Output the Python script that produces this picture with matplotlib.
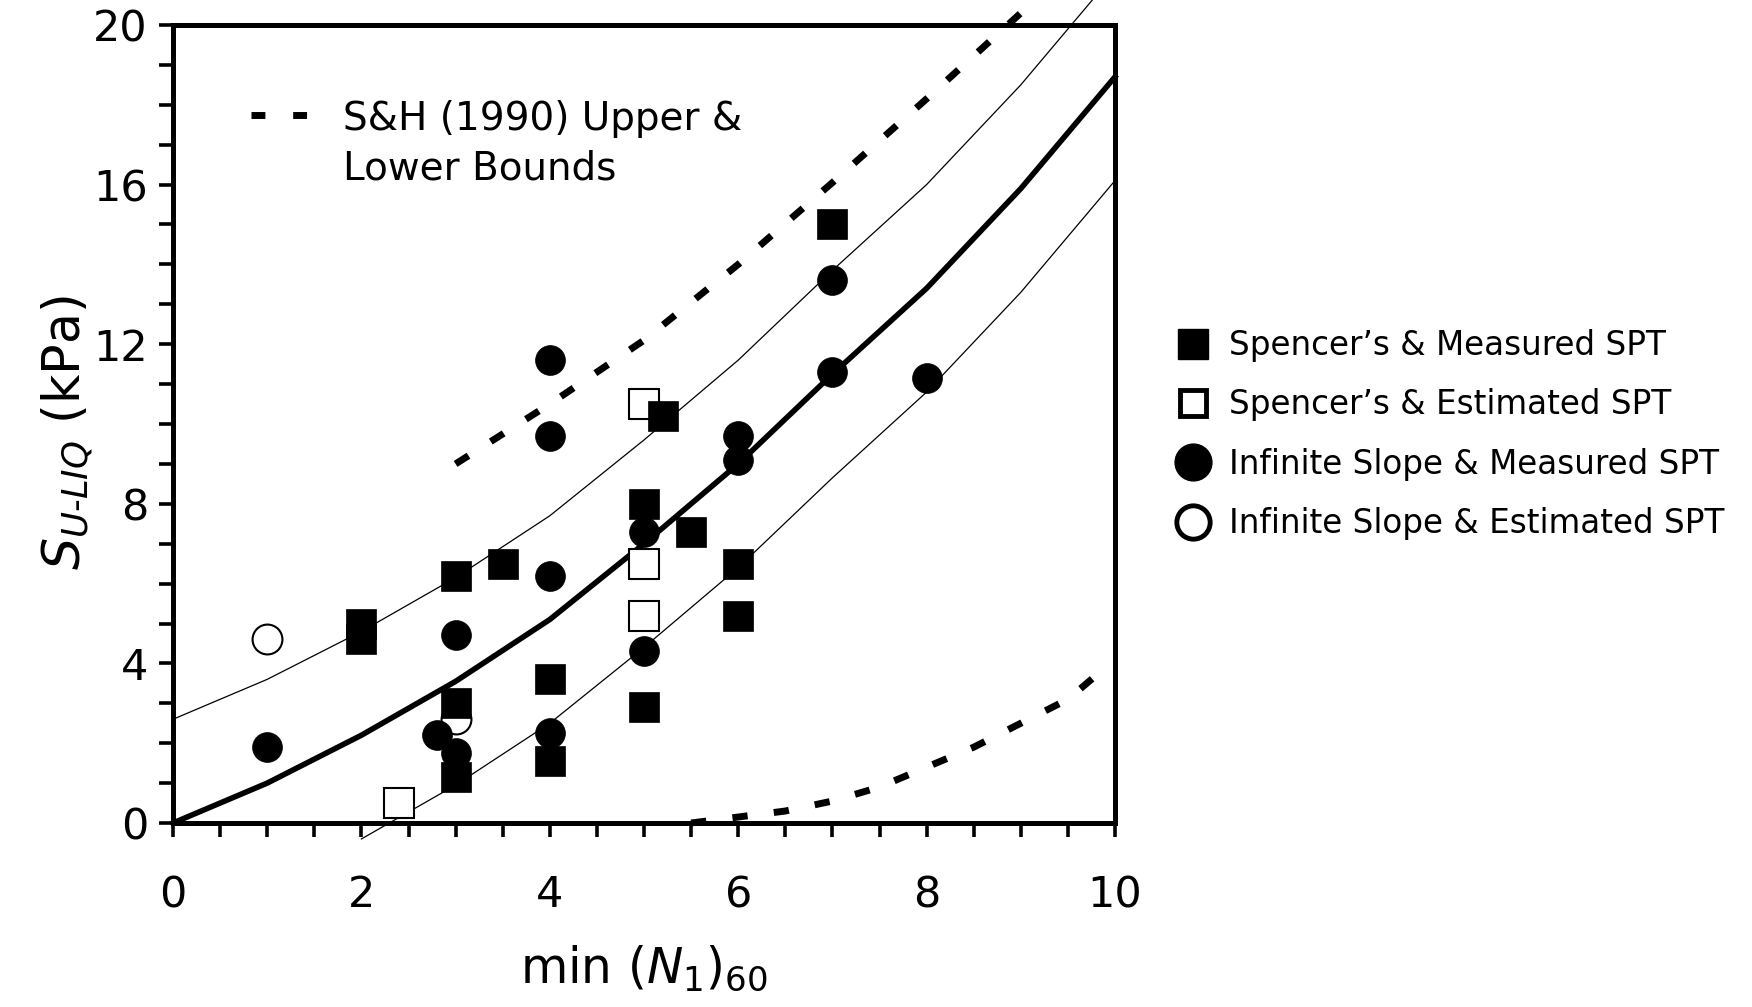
import numpy as np
import matplotlib
matplotlib.use("Agg")
import matplotlib.pyplot as plt
from matplotlib.lines import Line2D
from matplotlib.ticker import MultipleLocator

plt.rcParams['font.family'] = ['DejaVu Sans']
plt.rcParams['mathtext.fontset'] = 'dejavusans'

# ---- data ----
# Spencer's & measured SPT (filled squares)
sp_meas_x = [2, 2, 3, 3.5, 3, 3, 4, 4, 5, 5, 5.2, 5.5, 6, 6, 7]
sp_meas_y = [5.0, 4.6, 6.2, 6.5, 3.0, 1.15, 3.6, 1.55, 8.0, 2.9, 10.2, 7.3, 6.5, 5.2, 15.0]
# Spencer's & estimated SPT (open squares)
sp_est_x = [5, 5, 5, 2.4]
sp_est_y = [10.5, 6.5, 5.2, 0.5]
# Infinite slope & measured SPT (filled circles)
inf_meas_x = [1, 2.8, 3, 3, 4, 4, 4, 4, 5, 5, 6, 6, 7, 7, 8]
inf_meas_y = [1.9, 2.2, 4.7, 1.75, 11.6, 9.7, 6.2, 2.25, 7.3, 4.3, 9.7, 9.1, 13.6, 11.3, 11.15]
# Infinite slope & estimated SPT (open circles)
inf_est_x = [1, 3]
inf_est_y = [4.6, 2.6]

# best fit and thin bounds
fit_x = [0, 1, 2, 3, 4, 5, 6, 7, 8, 9, 10]
fit_y = [0, 1.0, 2.2, 3.55, 5.1, 7.0, 9.0, 11.25, 13.4, 15.9, 18.7]
upper_y = [2.6, 3.6, 4.8, 6.15, 7.7, 9.6, 11.6, 13.85, 16.0, 18.5, 21.3]
low_x = [2, 3, 4, 5, 6, 7, 8, 9, 10]
low_y = [-0.4, 0.95, 2.5, 4.4, 6.4, 8.65, 10.8, 13.3, 16.1]

# Seed & Harder (1990) bounds
sh_up_x = [3, 4, 5, 6, 7, 8, 9, 10]
sh_up_y = [9.0, 10.5, 12.1, 14.0, 16.05, 18.15, 20.3, 22.5]
sh_lo_x = [5.5, 6, 6.5, 7, 7.5, 8, 8.5, 9, 9.5, 9.8]
sh_lo_y = [0, 0.15, 0.3, 0.55, 0.9, 1.4, 1.9, 2.5, 3.1, 3.7]

labels = ["Spencer\u2019s & Measured SPT", "Spencer\u2019s & Estimated SPT",
          "Infinite Slope & Measured SPT", "Infinite Slope & Estimated SPT"]

fig = plt.figure(figsize=(17.52, 10.07), dpi=100)
ax = fig.add_axes([173 / 1752, 1 - 823 / 1007, 942 / 1752, 798 / 1007])

dash = (0, (2.2, 3.8))
ax.plot(fit_x, fit_y, color='k', lw=4, clip_on=False, zorder=2)
ax.plot(fit_x, upper_y, color='k', lw=0.9, clip_on=False, zorder=2)
ax.plot(low_x, low_y, color='k', lw=0.9, clip_on=False, zorder=2)
ax.plot(sh_up_x, sh_up_y, color='k', lw=5, ls=dash, dash_capstyle='butt', clip_on=False, zorder=2)
ax.plot(sh_lo_x, sh_lo_y, color='k', lw=5, ls=dash, dash_capstyle='butt', clip_on=False, zorder=2)

ms = 21.5
ax.plot(inf_est_x, inf_est_y, 'o', ms=ms, mfc='white', mec='k', mew=1.5, clip_on=False, zorder=3)
ax.plot(inf_meas_x, inf_meas_y, 'o', ms=ms, mfc='k', mec='k', mew=0.5, clip_on=False, zorder=4)
ax.plot(sp_est_x, sp_est_y, 's', ms=ms, mfc='white', mec='k', mew=1.5, clip_on=False, zorder=5)
ax.plot(sp_meas_x, sp_meas_y, 's', ms=ms, mfc='k', mec='k', mew=0.5, clip_on=False, zorder=6)

ax.set_xlim(0, 10)
ax.set_ylim(0, 20)
ax.xaxis.set_major_locator(MultipleLocator(2))
ax.xaxis.set_minor_locator(MultipleLocator(0.5))
ax.yaxis.set_major_locator(MultipleLocator(4))
ax.yaxis.set_minor_locator(MultipleLocator(1))
ax.tick_params(which='both', direction='out', width=2.6, length=10, color='k')
ax.tick_params(axis='x', which='major', pad=27, labelsize=31)
ax.tick_params(axis='y', which='major', pad=8, labelsize=31)
for s in ax.spines.values():
    s.set_linewidth(3.6)

ax.set_xlabel(r'min $(N_1)_{60}$', fontsize=35)
ax.xaxis.set_label_coords(0.5, -0.151)
ax.set_ylabel(r'$S_{U\text{-}LIQ}$ (kPa)', fontsize=36.5)
ax.yaxis.set_label_coords(-0.083, 0.49)

# inner legend for the S&H bounds
ax.plot([0.0828, 0.1422], [0.887, 0.887], transform=ax.transAxes, color='k', lw=5,
        ls=(0, (2.0, 4.0)), dash_capstyle='butt', clip_on=False)
ax.text(0.1805, 0.882, 'S&H (1990) Upper &', transform=ax.transAxes, fontsize=28, va='center')
ax.text(0.1805, 0.8206, 'Lower Bounds', transform=ax.transAxes, fontsize=28, va='center')

handles = [Line2D([], [], ls='none', marker='s', ms=21.5, mfc='k', mec='k'),
           Line2D([], [], ls='none', marker='s', ms=19, mfc='white', mec='k', mew=3.5),
           Line2D([], [], ls='none', marker='o', ms=26.5, mfc='k', mec='k'),
           Line2D([], [], ls='none', marker='o', ms=24, mfc='white', mec='k', mew=3.5)]
fig.legend(handles, labels, loc='upper left', bbox_to_anchor=(1177 / 1752, 1 - 329 / 1007),
           frameon=False, fontsize=23.5, handlelength=1.0, handletextpad=0.6,
           labelspacing=0.81, borderpad=0, borderaxespad=0)

fig.savefig('out.png', dpi=100)
